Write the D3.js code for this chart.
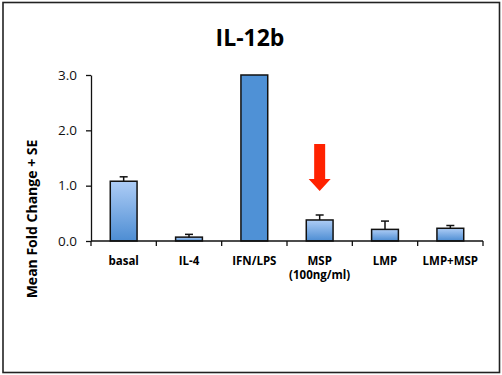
<!DOCTYPE html>
<html>
<head>
<meta charset="utf-8">
<script src="https://cdn.jsdelivr.net/npm/d3@7"></script>
<style>
  body { margin: 0; background: #fff; }
  svg { display: block; font-family: "Open Sans", sans-serif; }
</style>
</head>
<body>
<script>
const categories = ["basal", "IL-4", "IFN/LPS", "MSP(100ng/ml)", "LMP", "LMP+MSP"];
const labelLines = [["basal"], ["IL-4"], ["IFN/LPS"], ["MSP", "(100ng/ml)"], ["LMP"], ["LMP+MSP"]];
const means = [1.08, 0.07, 3.0, 0.38, 0.21, 0.23];
const errors = [0.08, 0.05, 0, 0.09, 0.15, 0.05];
const solidBar = [false, false, true, false, false, false];
const yTicks = [0, 1, 2, 3];

const width = 502, height = 375;
const margin = { top: 75, right: 19, bottom: 134, left: 91 };

const svg = d3.select("body").append("svg")
  .attr("width", width)
  .attr("height", height);

// frame
svg.append("rect")
  .attr("x", 3).attr("y", 2.5)
  .attr("width", 496.5).attr("height", 370)
  .attr("fill", "none")
  .attr("stroke", "#222")
  .attr("stroke-width", 1.6);

const defs = svg.append("defs");
const grad = defs.append("linearGradient")
  .attr("id", "barGrad")
  .attr("x1", 0).attr("y1", 0).attr("x2", 0).attr("y2", 1);
grad.append("stop").attr("offset", "0%").attr("stop-color", "#aecdf6");
grad.append("stop").attr("offset", "100%").attr("stop-color", "#4d8dd3");

const x = d3.scaleBand()
  .domain(categories)
  .range([margin.left, width - margin.right])
  .paddingInner(0.59)
  .paddingOuter(0.295);

const y = d3.scaleLinear()
  .domain([0, 3])
  .range([height - margin.bottom, margin.top]);

// title
svg.append("text")
  .attr("x", 250).attr("y", 46)
  .attr("text-anchor", "middle")
  .attr("font-size", 23)
  .attr("font-weight", "bold")
  .text("IL-12b");

// y-axis
svg.append("g")
  .attr("transform", `translate(${margin.left},0)`)
  .call(d3.axisLeft(y).tickValues(yTicks).tickFormat(d3.format(".1f")).tickSize(5).tickSizeOuter(0))
  .call(g => g.select(".domain").attr("stroke", "#111").attr("stroke-width", 1.3))
  .call(g => g.selectAll(".tick line").attr("stroke", "#111").attr("stroke-width", 1.3))
  .call(g => g.selectAll(".tick text").attr("x", -14).attr("font-size", 13.5)
    .attr("font-family", "'Open Sans', sans-serif").attr("fill", "#111"));

svg.append("text")
  .attr("transform", "translate(37,219) rotate(-90)")
  .attr("text-anchor", "middle")
  .attr("font-size", 14)
  .attr("font-weight", "bold")
  .text("Mean Fold Change + SE");

// bars
svg.append("g")
  .selectAll("rect")
  .data(categories)
  .join("rect")
  .attr("x", d => x(d))
  .attr("y", (d, i) => y(means[i]))
  .attr("width", x.bandwidth())
  .attr("height", (d, i) => y(0) - y(means[i]))
  .attr("fill", (d, i) => solidBar[i] ? "#4f91d6" : "url(#barGrad)")
  .attr("stroke", "#111")
  .attr("stroke-width", 1.5);

// error bars (upper only)
const eb = svg.append("g").attr("stroke", "#111").attr("stroke-width", 1.5);
categories.forEach((c, i) => {
  if (errors[i] <= 0) return;
  const cx = x(c) + x.bandwidth() / 2;
  eb.append("line")
    .attr("x1", cx).attr("x2", cx)
    .attr("y1", y(means[i])).attr("y2", y(means[i] + errors[i]));
  eb.append("line")
    .attr("x1", cx - 4).attr("x2", cx + 4)
    .attr("y1", y(means[i] + errors[i])).attr("y2", y(means[i] + errors[i]));
});

// x-axis
const xStep = x.step();
const xTickPos = d3.range(categories.length + 1).map(i => margin.left + i * xStep);
svg.append("line")
  .attr("x1", margin.left).attr("x2", width - margin.right)
  .attr("y1", y(0)).attr("y2", y(0))
  .attr("stroke", "#111").attr("stroke-width", 1.3);
svg.append("g")
  .selectAll("line")
  .data(xTickPos)
  .join("line")
  .attr("x1", d => d).attr("x2", d => d)
  .attr("y1", y(0)).attr("y2", y(0) + 5)
  .attr("stroke", "#111").attr("stroke-width", 1.3);

// category labels, centred under each bar (long one wrapped)
svg.append("g")
  .selectAll("text")
  .data(categories)
  .join("text")
  .attr("x", d => x(d) + x.bandwidth() / 2)
  .attr("y", y(0) + 24)
  .attr("text-anchor", "middle")
  .attr("font-size", 11.5)
  .attr("font-weight", "bold")
  .selectAll("tspan")
  .data((d, i) => labelLines[i].map(t => ({ t, cx: x(d) + x.bandwidth() / 2 })))
  .join("tspan")
  .attr("x", d => d.cx)
  .attr("dy", (d, j) => j === 0 ? 0 : 14)
  .text(d => d.t);

// red arrow over MSP
const ax = x("MSP(100ng/ml)") + x.bandwidth() / 2;
svg.append("path")
  .attr("d", `M${ax - 5.5},144 L${ax + 5.5},144 L${ax + 5.5},179 L${ax + 11},179 L${ax},191 L${ax - 11},179 L${ax - 5.5},179 Z`)
  .attr("fill", "#ff2200");
</script>
</body>
</html>
